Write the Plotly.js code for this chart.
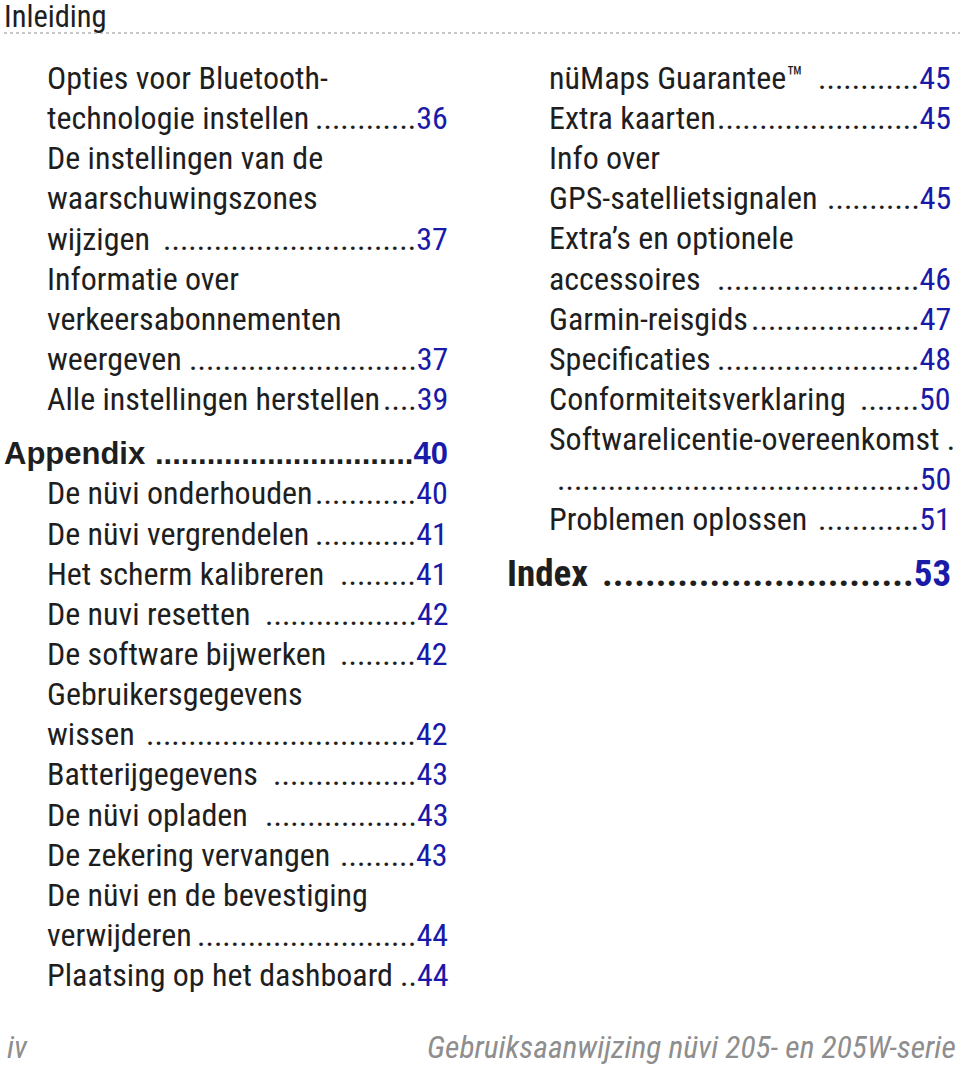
<!DOCTYPE html>
<html>
<head>
<meta charset="utf-8">
<script src="https://cdn.plot.ly/plotly-3.0.1.min.js"></script>
<style>html,body{margin:0;padding:0;background:#fff;}#chart{width:960px;height:1067px;}</style>
</head>
<body>
<div id="chart"></div>
<script>
// ---- Data ----
const headerText = "Inleiding";
const leftLabels = ["Opties voor Bluetooth-","technologie instellen","De instellingen van de","waarschuwingszones","wijzigen ","Informatie over","verkeersabonnementen","weergeven","Alle instellingen herstellen","Appendix ","De nüvi onderhouden","De nüvi vergrendelen","Het scherm kalibreren ","De nuvi resetten ","De software bijwerken ","Gebruikersgegevens","wissen ","Batterijgegevens ","De nüvi opladen ","De zekering vervangen ","De nüvi en de bevestiging","verwijderen","Plaatsing op het dashboard"];
const leftPages  = ["","36","","","37","","","37","39","40","40","41","41","42","42","","42","43","43","43","","44","44"];
const leftKinds  = ["e","e","e","e","e","e","e","e","e","s","e","e","e","e","e","e","e","e","e","e","e","e","e"];
const rightLabels = ["nüMaps Guarantee™ ","Extra kaarten","Info over","GPS-satellietsignalen","Extra’s en optionele","accessoires ","Garmin-reisgids","Specificaties","Conformiteitsverklaring ","Softwarelicentie-overeenkomst .","","Problemen oplossen ","Index "];
const rightPages  = ["45","45","","45","","46","47","48","50","","50","51","53"];
const rightKinds  = ["e","e","e","e","e","e","e","e","e","e","e","e","s"];
const footerLeft = "iv";
const footerRight = "Gebruiksaanwijzing nüvi 205- en 205W-serie";

// ---- Styles ----
const COND = 'Roboto Condensed';
const WIDE = 'Liberation Sans';
const TXT = '#1e1e1e', BLUE = '#1a1aa8', GREY = '#8e8e8e';
const entryFont = {family: COND, size: 32, weight: 400};
const sectionFonts = {left: {family: WIDE, size: 31, weight: 700}, right: {family: COND, size: 37, weight: 700}};

const cv = document.createElement('canvas').getContext('2d');
function measure(t, f){ cv.font = `${f.weight} ${f.size}px "${f.family}"`; return cv.measureText(t).width; }

const annotations = [];
function addColumn(labels, pages, kinds, xEntry, xSection, xRight, y0, step, secGap, side){
  let y = y0;
  labels.forEach((lab, i) => {
    if (i > 0) y += (kinds[i] === 's') ? secGap : step;
    const f = kinds[i] === 's' ? sectionFonts[side] : entryFont;
    const x0 = kinds[i] === 's' ? xSection : xEntry;
    if (lab) annotations.push({x: x0, y: y, xref:'x', yref:'y', text: lab, showarrow:false, xanchor:'left', yanchor:'middle',
      borderpad:0, borderwidth:0, font:{family:f.family, size:f.size, color:TXT, weight:f.weight}});
    if (pages[i]) {
      const numW = measure(pages[i], f);
      const labEnd = x0 + (lab ? measure(lab, f) : 0);
      const dotW = measure('.', f);
      const n = Math.max(0, Math.floor((xRight - numW - labEnd - 1) / dotW));
      annotations.push({x: xRight, y: y, xref:'x', yref:'y', text: '.'.repeat(n) + `<span style="color:${BLUE}">${pages[i]}</span>`,
        showarrow:false, xanchor:'right', yanchor:'middle', borderpad:0, borderwidth:0,
        font:{family:f.family, size:f.size, color:TXT, weight:f.weight}});
    }
  });
}
addColumn(leftLabels, leftPages, leftKinds, 47, 4, 448, 78, 40.15, 54, 'left');
addColumn(rightLabels, rightPages, rightKinds, 549, 507, 951, 78, 40.1, 54, 'right');

annotations.push({x:4, y:16, xref:'x', yref:'y', text: headerText, showarrow:false, xanchor:'left', yanchor:'middle',
  borderpad:0, borderwidth:0, font:{family:COND, size:30.5, color:TXT, weight:400}});
annotations.push({x:7, y:1047, xref:'x', yref:'y', text: `<i>${footerLeft}</i>`, showarrow:false, xanchor:'left', yanchor:'middle',
  borderpad:0, borderwidth:0, font:{family:COND, size:31.5, color:GREY, weight:400}});
annotations.push({x:956, y:1047, xref:'x', yref:'y', text: `<i>${footerRight}</i>`, showarrow:false, xanchor:'right', yanchor:'middle',
  borderpad:0, borderwidth:0, font:{family:COND, size:31.5, color:GREY, weight:400}});

const layout = {
  width:960, height:1067, margin:{l:0,r:0,t:0,b:0}, paper_bgcolor:'#fff', plot_bgcolor:'#fff', showlegend:false,
  xaxis:{range:[0,960], visible:false, fixedrange:true},
  yaxis:{range:[1067,0], visible:false, fixedrange:true},
  shapes:[{type:'line', xref:'x', yref:'y', x0:4, x1:960, y0:33, y1:33, line:{color:'#b5b5b5', width:1.5, dash:'dot'}}],
  annotations: annotations
};
Plotly.newPlot('chart', [{x:[], y:[], type:'scatter', mode:'markers', hoverinfo:'skip'}], layout, {staticPlot:true, displayModeBar:false});
</script>
</body>
</html>
